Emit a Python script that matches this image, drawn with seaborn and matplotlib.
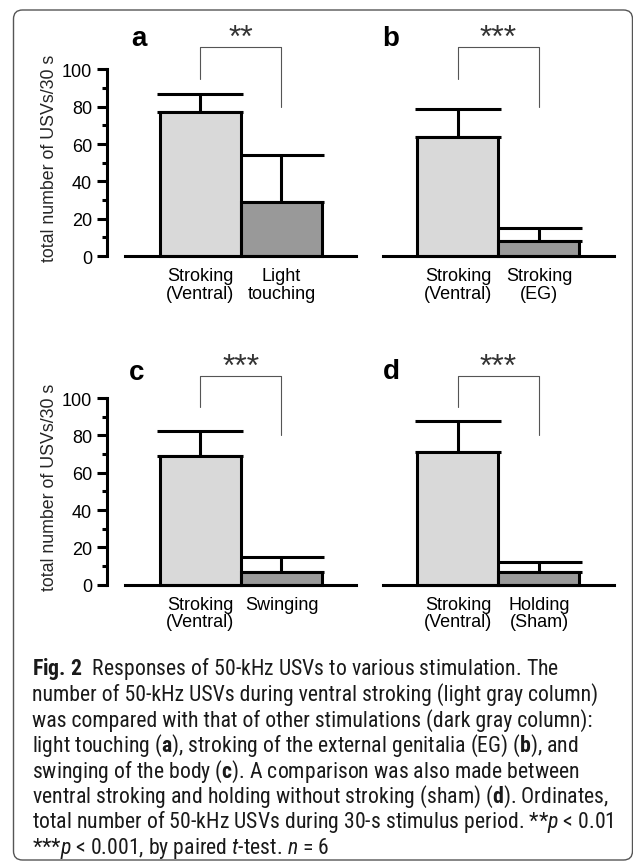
import matplotlib
matplotlib.use("Agg")
import matplotlib.pyplot as plt
import matplotlib.transforms as mtransforms
from matplotlib import font_manager as fm
from matplotlib.patches import FancyBboxPatch
from matplotlib.ticker import FixedLocator
import seaborn as sns
import numpy as np
import pandas as pd

# ---------------- data ----------------
panel_labels = ["a", "b", "c", "d"]
stim_labels = [
    ["Stroking\n(Ventral)", "Light\ntouching"],
    ["Stroking\n(Ventral)", "Stroking\n(EG)"],
    ["Stroking\n(Ventral)", "Swinging"],
    ["Stroking\n(Ventral)", "Holding\n(Sham)"],
]
ventral_mean = [77, 64, 69, 71]
ventral_sem = [10, 15, 13.5, 16.5]
other_mean = [29, 8, 7, 7]
other_sem = [25, 7, 8, 5]
sig_marks = ["**", "***", "***", "***"]
bracket_top = [112, 112, 112, 112]
bracket_left_end = [95, 95, 95, 95]
bracket_right_end = [80, 80, 80, 80]
y_ticks = [0, 20, 40, 60, 80, 100]
y_minor = [10, 30, 50, 70, 90]
y_label = "total number of USVs/30 s"
caption_lines = [
    r"$\mathbf{Fig.\,2}$  Responses of 50-kHz USVs to various stimulation. The",
    "number of 50-kHz USVs during ventral stroking (light gray column)",
    "was compared with that of other stimulations (dark gray column):",
    r"light touching ($\mathbf{a}$), stroking of the external genitalia (EG) ($\mathbf{b}$), and",
    r"swinging of the body ($\mathbf{c}$). A comparison was also made between",
    r"ventral stroking and holding without stroking (sham) ($\mathbf{d}$). Ordinates,",
    r"total number of 50-kHz USVs during 30-s stimulus period. **$p$ < 0.01",
    r"***$p$ < 0.001, by paired $t$-test. $n$ = 6",
]

# ---------------- style ----------------
sns.set_style("white")
plt.rcParams["font.family"] = ["Liberation Sans", "DejaVu Sans"]
avail = {f.name for f in fm.fontManager.ttflist}
cap_font = next((f for f in ["Liberation Sans Narrow", "DejaVu Sans Condensed",
                             "Roboto Condensed", "Open Sans Condensed"] if f in avail),
                "Liberation Sans")
plt.rcParams["mathtext.fontset"] = "custom"
plt.rcParams["mathtext.rm"] = cap_font
plt.rcParams["mathtext.it"] = cap_font + ":italic"
plt.rcParams["mathtext.bf"] = cap_font + ":bold"

LIGHT = "#d9d9d9"
DARK = "#999999"
LW = 2.2

W, H = 633, 862
fig = plt.figure(figsize=(W / 100, H / 100), dpi=100)
fig.patch.set_facecolor("white")

XLIM = (-1.154, 1.92)
YLIM = (-8, 125)
px_per_unit = 1.866
ax_h_px = (YLIM[1] - YLIM[0]) * px_per_unit
ax_w_px = 249
lefts = [107, 364.5, 107, 364.5]
zeros = [257, 257, 585.7, 585.7]
label_x = [-0.86, -0.93, -0.89, -0.93]
label_y = [113, 113, 110, 111]

for i in range(4):
    bottom_px = zeros[i] + (-YLIM[0]) * px_per_unit
    ax = fig.add_axes([lefts[i] / W, 1 - bottom_px / H, ax_w_px / W, ax_h_px / H])
    ax.set_facecolor("none")
    df = pd.DataFrame({"stim": stim_labels[i],
                       "count": [ventral_mean[i], other_mean[i]]})
    sns.barplot(data=df, x="stim", y="count", hue="stim", palette=[LIGHT, DARK],
                width=1.0, edgecolor="black", linewidth=LW, saturation=1,
                errorbar=None, legend=False, ax=ax, zorder=2)
    ax.errorbar([0, 1], [ventral_mean[i], other_mean[i]],
                yerr=[[0, 0], [ventral_sem[i], other_sem[i]]],
                fmt="none", ecolor="black", elinewidth=LW, capsize=31,
                capthick=LW, zorder=1)
    ax.set_xlim(*XLIM)
    ax.set_ylim(*YLIM)
    ax.set_xlabel("")
    ax.spines["bottom"].set_position(("data", 0))
    ax.spines["bottom"].set_bounds(-0.93, 1.92)
    ax.spines["bottom"].set_linewidth(LW)
    ax.spines["bottom"].set_color("black")
    ax.spines["top"].set_visible(False)
    ax.spines["right"].set_visible(False)
    ax.tick_params(axis="x", length=0, pad=8.0, labelsize=13, colors="black")
    for t in ax.get_xticklabels():
        t.set_linespacing(1.05)
    if i in (0, 2):
        ax.spines["left"].set_bounds(0, 100)
        ax.spines["left"].set_linewidth(LW)
        ax.spines["left"].set_color("black")
        ax.set_yticks(y_ticks)
        ax.yaxis.set_minor_locator(FixedLocator(y_minor))
        ax.tick_params(axis="y", which="major", length=7.2, width=LW, pad=3.5,
                       labelsize=13, direction="out", left=True, colors="black")
        ax.tick_params(axis="y", which="minor", length=3.6, width=LW,
                       direction="out", left=True, colors="black")
        ax.set_ylabel(y_label, fontsize=12.8)
        ax.yaxis.set_label_coords(-0.197, 0.457)
    else:
        ax.spines["left"].set_visible(False)
        ax.set_yticks([])
        ax.set_ylabel("")
    # significance bracket
    ax.plot([0, 0, 1, 1],
            [bracket_left_end[i], bracket_top[i], bracket_top[i], bracket_right_end[i]],
            color="#555555", lw=0.8, clip_on=False, zorder=3)
    ax.text(0.5, bracket_top[i] + 0.5, sig_marks[i], ha="center", va="baseline",
            fontsize=23, color="#333333", clip_on=False)
    ax.text(label_x[i], label_y[i], panel_labels[i], ha="left", va="baseline",
            fontsize=20, fontweight="bold", color="black", clip_on=False)

# caption
cap_texts = []
for k, line in enumerate(caption_lines):
    t = fig.text(32 / W, 1 - (675.5 + 25.5 * k) / H, line, ha="left", va="baseline",
                 fontsize=14, family=cap_font, color="#1a1a1a")
    cap_texts.append(t)
fig.canvas.draw()
r = fig.canvas.get_renderer()
wmeas = cap_texts[1].get_window_extent(r).width
scale = 571 / wmeas
for t in cap_texts:
    t.set_fontsize(14 * scale)

# rounded frame
box = FancyBboxPatch((13.5, 1), 619, 850, boxstyle="round,pad=0,rounding_size=9",
                     transform=mtransforms.IdentityTransform(), fill=False,
                     ec="#555555", lw=1.0)
fig.add_artist(box)

fig.savefig("out.png", dpi=100, facecolor="white")
